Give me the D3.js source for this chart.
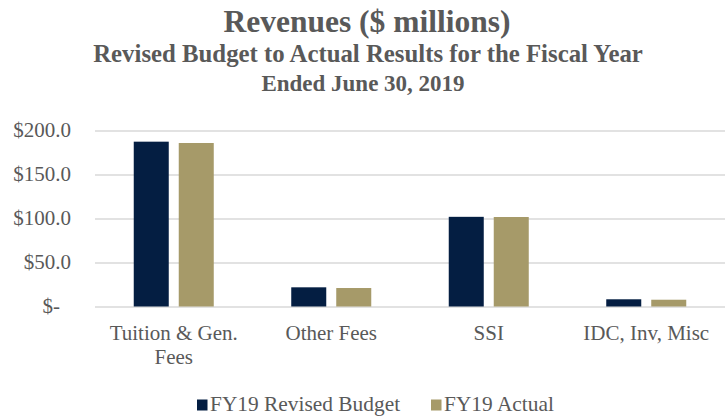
<!DOCTYPE html>
<html>
<head>
<meta charset="utf-8">
<script src="https://d3js.org/d3.v7.min.js"></script>
<style>
  body { margin: 0; background: #fff; }
  text { font-family: "Liberation Serif", "Times New Roman", serif; fill: #595959; }
</style>
</head>
<body>
<div id="chart"></div>
<script>

// svg variables
var width = 726,
    height = 418;

var margin = {top: 130.5, right: 1, bottom: 111.5, left: 95},
    innerW = width - margin.left - margin.right,
    innerH = height - margin.top - margin.bottom;

// data variables
var series = ["FY19 Revised Budget", "FY19 Actual"];
var colors = {"FY19 Revised Budget": "#041E42", "FY19 Actual": "#A69A69"};

var data = [
    {name: ["Tuition & Gen.", "Fees"], "FY19 Revised Budget": 187.3, "FY19 Actual": 185.8},
    {name: ["Other Fees"],             "FY19 Revised Budget": 21.8,  "FY19 Actual": 21.0},
    {name: ["SSI"],                    "FY19 Revised Budget": 101.9, "FY19 Actual": 101.7},
    {name: ["IDC, Inv, Misc"],         "FY19 Revised Budget": 8.2,   "FY19 Actual": 7.7}
];

var svg = d3.select("#chart")
    .append("svg")
    .attr("width", width)
    .attr("height", height);

/////////////////////////////
// titles
/////////////////////////////

svg.append("text")
    .attr("x", 367).attr("y", 32)
    .attr("text-anchor", "middle")
    .style("font-size", "31.5px").style("font-weight", "bold")
    .text("Revenues ($ millions)");

svg.append("text")
    .attr("x", 368).attr("y", 62)
    .attr("text-anchor", "middle")
    .style("font-size", "24.8px").style("font-weight", "bold")
    .text("Revised Budget to Actual Results for the Fiscal Year");

svg.append("text")
    .attr("x", 363).attr("y", 90.5)
    .attr("text-anchor", "middle")
    .style("font-size", "23px").style("font-weight", "bold")
    .text("Ended June 30, 2019");

/////////////////////////////
// scales
/////////////////////////////

var x0 = d3.scaleBand()
    .domain(data.map(function(d, i) { return i; }))
    .range([0, innerW])
    .paddingInner(0.492)
    .paddingOuter(0.246);

var x1 = d3.scaleBand()
    .domain(series)
    .range([0, x0.bandwidth()])
    .paddingInner(0.222);

var y = d3.scaleLinear()
    .domain([0, 200])
    .range([innerH, 0]);

var g = svg.append("g")
    .attr("transform", "translate(" + margin.left + "," + margin.top + ")");

// gridlines
var yAxis = g.append("g")
    .call(d3.axisLeft(y).tickValues([0, 50, 100, 150, 200]).tickSize(-innerW).tickFormat(""));
yAxis.select(".domain").remove();
yAxis.selectAll("line").attr("stroke", "#d9d9d9").attr("stroke-width", 1.5);

// tick labels
g.selectAll(".ylab")
    .data([0, 50, 100, 150, 200])
    .enter().append("text")
    .attr("class", "ylab")
    .attr("x", function(d) { return d === 0 ? -35 : -24; })
    .attr("y", function(d) { return y(d); })
    .attr("dy", "0.32em")
    .attr("text-anchor", "end")
    .style("font-size", "21px")
    .text(function(d) { return d === 0 ? "$-" : "$" + d3.format(".1f")(d); });

// bars
var groups = g.selectAll(".grp")
    .data(data)
    .enter().append("g")
    .attr("class", "grp")
    .attr("transform", function(d, i) { return "translate(" + x0(i) + ",0)"; });

groups.selectAll("rect")
    .data(function(d) { return series.map(function(s) { return {key: s, value: d[s]}; }); })
    .enter().append("rect")
    .attr("x", function(d) { return x1(d.key); })
    .attr("y", function(d) { return y(d.value); })
    .attr("width", x1.bandwidth())
    .attr("height", function(d) { return innerH - y(d.value); })
    .attr("fill", function(d) { return colors[d.key]; });

// category labels
groups.each(function(d) {
    var t = d3.select(this).append("text")
        .attr("x", x0.bandwidth() / 2)
        .attr("y", innerH + 33)
        .attr("text-anchor", "middle")
        .style("font-size", "21px");
    d.name.forEach(function(line, k) {
        t.append("tspan")
            .attr("x", x0.bandwidth() / 2)
            .attr("dy", k === 0 ? 0 : 24)
            .text(line);
    });
});

/////////////////////////////
// legend
/////////////////////////////

var legendX = [197, 431];
var legend = svg.selectAll(".leg")
    .data(series)
    .enter().append("g")
    .attr("class", "leg")
    .attr("transform", function(d, i) { return "translate(" + legendX[i] + ",399.5)"; });

legend.append("rect")
    .attr("width", 10.5).attr("height", 11)
    .attr("fill", function(d) { return colors[d]; });

legend.append("text")
    .attr("x", 13).attr("y", 11.5)
    .style("font-size", "21.4px")
    .text(function(d) { return d; });

</script>
</body>
</html>
